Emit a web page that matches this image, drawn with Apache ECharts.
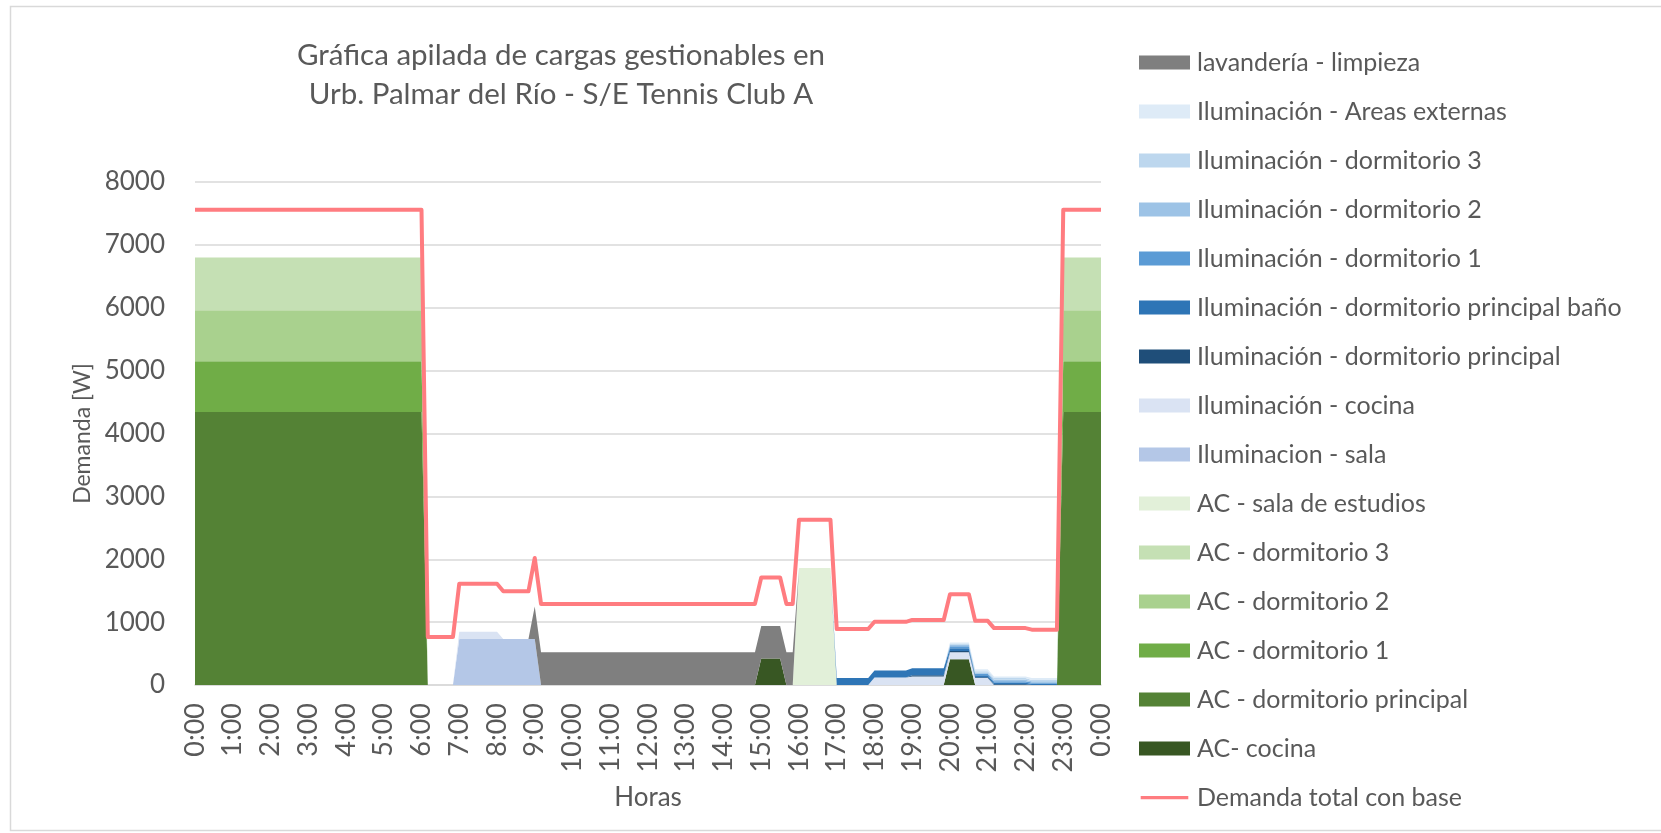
<!DOCTYPE html>
<html>
<head>
<meta charset="utf-8">
<script src="https://cdn.jsdelivr.net/npm/echarts@6/dist/echarts.min.js"></script>
<style>
  html, body { margin: 0; padding: 0; background: #fff; }
  #chart { width: 1661px; height: 833px; }
</style>
</head>
<body>
<div id="chart"></div>
<script>
// time points in minutes from 0:00 (10-min samples where something changes)
const minutes = [0, 360, 370, 410, 420, 480, 490, 530, 540, 550, 890, 900, 930, 940, 950, 960,
  1010, 1020, 1070, 1080, 1130, 1140, 1190, 1200, 1230, 1240, 1260, 1270, 1320, 1330, 1370, 1380, 1440];

// stacked loads [W], bottom to top
const acCocina      = [0, 0, 0, 0, 0, 0, 0, 0, 0, 0, 0, 420, 420, 0, 0, 0, 0, 0, 0, 0, 0, 0, 0, 410, 410, 0, 0, 0, 0, 0, 0, 0, 0];
const acPrincipal   = [4340, 4340, 0, 0, 0, 0, 0, 0, 0, 0, 0, 0, 0, 0, 0, 0, 0, 0, 0, 0, 0, 0, 0, 0, 0, 0, 0, 0, 0, 0, 0, 4340, 4340];
const acDorm1       = [810, 810, 0, 0, 0, 0, 0, 0, 0, 0, 0, 0, 0, 0, 0, 0, 0, 0, 0, 0, 0, 0, 0, 0, 0, 0, 0, 0, 0, 0, 0, 810, 810];
const acDorm2       = [810, 810, 0, 0, 0, 0, 0, 0, 0, 0, 0, 0, 0, 0, 0, 0, 0, 0, 0, 0, 0, 0, 0, 0, 0, 0, 0, 0, 0, 0, 0, 810, 810];
const acDorm3       = [840, 840, 0, 0, 0, 0, 0, 0, 0, 0, 0, 0, 0, 0, 0, 0, 0, 0, 0, 0, 0, 0, 0, 0, 0, 0, 0, 0, 0, 0, 0, 840, 840];
const acEstudios    = [0, 0, 0, 0, 0, 0, 0, 0, 0, 0, 0, 0, 0, 0, 0, 1860, 1860, 0, 0, 0, 0, 0, 0, 0, 0, 0, 0, 0, 0, 0, 0, 0, 0];
const ilSala        = [0, 0, 0, 0, 730, 730, 730, 730, 730, 0, 0, 0, 0, 0, 0, 0, 0, 0, 0, 0, 0, 0, 0, 0, 0, 0, 0, 0, 0, 0, 0, 0, 0];
const ilCocina      = [0, 0, 0, 0, 115, 115, 0, 0, 0, 0, 0, 0, 0, 0, 0, 0, 0, 0, 0, 120, 120, 135, 135, 110, 110, 110, 110, 0, 0, 0, 0, 0, 0];
const ilPrincipal   = [0, 0, 0, 0, 0, 0, 0, 0, 0, 0, 0, 0, 0, 0, 0, 0, 0, 0, 0, 0, 0, 20, 20, 20, 20, 15, 15, 10, 10, 0, 0, 0, 0];
const ilBano        = [0, 0, 0, 0, 0, 0, 0, 0, 0, 0, 0, 0, 0, 0, 0, 0, 0, 110, 110, 110, 110, 110, 110, 45, 45, 30, 30, 25, 25, 20, 20, 0, 0];
const ilDorm1       = [0, 0, 0, 0, 0, 0, 0, 0, 0, 0, 0, 0, 0, 0, 0, 0, 0, 0, 0, 0, 0, 0, 0, 30, 30, 25, 25, 25, 25, 20, 20, 0, 0];
const ilDorm2       = [0, 0, 0, 0, 0, 0, 0, 0, 0, 0, 0, 0, 0, 0, 0, 0, 0, 0, 0, 0, 0, 0, 0, 25, 25, 20, 20, 25, 25, 20, 20, 0, 0];
const ilDorm3       = [0, 0, 0, 0, 0, 0, 0, 0, 0, 0, 0, 0, 0, 0, 0, 0, 0, 0, 0, 0, 0, 0, 0, 20, 20, 20, 20, 25, 25, 20, 20, 0, 0];
const ilExternas    = [0, 0, 0, 0, 0, 0, 0, 0, 0, 0, 0, 0, 0, 0, 0, 0, 0, 0, 0, 0, 0, 0, 0, 15, 15, 30, 30, 25, 25, 30, 30, 0, 0];
const lavanderia    = [0, 0, 0, 0, 0, 0, 0, 0, 520, 520, 520, 520, 520, 520, 520, 0, 0, 0, 0, 0, 0, 0, 0, 0, 0, 0, 0, 0, 0, 0, 0, 0, 0];
// red line
const demandaTotal  = [7560, 7560, 765, 765, 1610, 1610, 1490, 1490, 2020, 1290, 1290, 1710, 1710, 1290, 1290, 2630,
  2630, 890, 890, 1005, 1005, 1035, 1035, 1445, 1445, 1020, 1020, 905, 905, 880, 880, 7560, 7560];

const areaSeries = [
  ["AC- cocina", acCocina, "#385723"],
  ["AC - dormitorio principal", acPrincipal, "#548235"],
  ["AC - dormitorio 1", acDorm1, "#70ad47"],
  ["AC - dormitorio 2", acDorm2, "#a9d18e"],
  ["AC - dormitorio 3", acDorm3, "#c5e0b4"],
  ["AC - sala de estudios", acEstudios, "#e2f0d9"],
  ["Iluminacion - sala", ilSala, "#b4c7e7"],
  ["Iluminación - cocina", ilCocina, "#dae3f3"],
  ["Iluminación - dormitorio principal", ilPrincipal, "#1f4e79"],
  ["Iluminación - dormitorio principal baño", ilBano, "#2e75b6"],
  ["Iluminación - dormitorio 1", ilDorm1, "#5b9bd5"],
  ["Iluminación - dormitorio 2", ilDorm2, "#9dc3e6"],
  ["Iluminación - dormitorio 3", ilDorm3, "#bdd7ee"],
  ["Iluminación - Areas externas", ilExternas, "#deebf7"],
  ["lavandería - limpieza", lavanderia, "#7f7f7f"],
];

const FONT = "Lato";
const GREY = "#595959";
const HOUR = 3600 * 1000;

const chart = echarts.init(document.getElementById("chart"));

// time axis (ms since 0:00) so the stack is done on the W values, point by point
const toPoints = (values) => minutes.map((m, i) => [m * 60000, values[i]]);

const series = areaSeries.map(([name, values, color]) => ({
  name,
  type: "line",
  stack: "cargas",
  data: toPoints(values),
  showSymbol: false,
  symbol: "none",
  lineStyle: { width: 0 },
  itemStyle: { color },
  areaStyle: { color, opacity: 1 },
  silent: true,
}));

series.push({
  name: "Demanda total con base",
  type: "line",
  data: toPoints(demandaTotal),
  symbol: "none",
  itemStyle: { color: "#ff7c80" },
  lineStyle: { color: "#ff7c80", width: 4, join: "round" },
  z: 5,
});

// legend: top item is the last stacked series (Excel order)
const legendData = areaSeries
  .map(([name]) => ({ name, icon: "rect" }))
  .reverse();
legendData.push({
  name: "Demanda total con base",
  icon: "path://M0,0 L0.01,0 L0,0 Z M0,6 L51,6 L51,9.5 L0,9.5 Z M0,15 L0.01,15 L0,15 Z",
});

const option = {
  animation: false,
  useUTC: true,
  textStyle: { fontFamily: FONT },
  title: {
    text: "Gráfica apilada de cargas gestionables en\nUrb. Palmar del Río - S/E Tennis Club A",
    left: 561,
    top: 36,
    padding: 0,
    textAlign: "center",
    textStyle: { fontFamily: FONT, fontSize: 29.5, fontWeight: "normal", color: GREY, lineHeight: 39 },
  },
  legend: {
    orient: "vertical",
    left: 1139,
    top: 50,
    padding: 0,
    itemWidth: 51,
    itemHeight: 14,
    itemGap: 24,
    data: legendData,
    textStyle: { fontFamily: FONT, fontSize: 25, color: GREY, padding: [0, 0, 0, 2] },
  },
  grid: { left: 195, right: 560, top: 182, bottom: 148, containLabel: false },
  xAxis: {
    type: "time",
    min: 0,
    max: 24 * HOUR,
    minInterval: HOUR,
    maxInterval: HOUR,
    name: "Horas",
    nameLocation: "middle",
    nameGap: 100,
    nameTextStyle: { fontFamily: FONT, fontSize: 26, color: GREY },
    splitLine: { show: false },
    axisTick: { show: false },
    axisLine: { lineStyle: { color: "#d9d9d9", width: 1.5 } },
    axisLabel: {
      rotate: 90,
      margin: 18,
      fontFamily: FONT,
      fontSize: 27,
      color: GREY,
      showMinLabel: true,
      showMaxLabel: true,
      hideOverlap: false,
      formatter: (v) => (Math.round(v / HOUR) % 24) + ":00",
    },
  },
  yAxis: {
    type: "value",
    min: 0,
    max: 8000,
    interval: 1000,
    name: "Demanda [W]",
    nameLocation: "middle",
    nameGap: 100,
    nameTextStyle: { fontFamily: FONT, fontSize: 23, color: GREY },
    axisLine: { show: false },
    axisTick: { show: false },
    splitLine: { lineStyle: { color: "#d9d9d9", width: 1.5 } },
    axisLabel: { margin: 30, fontFamily: FONT, fontSize: 26, color: GREY, formatter: (v) => String(v) },
  },
  graphic: [
    {
      type: "rect",
      shape: { x: 10.5, y: 6.5, width: 1700, height: 824 },
      style: { fill: null, stroke: "#d9d9d9", lineWidth: 1.5 },
      silent: true,
      z: -10,
    },
  ],
  series,
};

chart.setOption(option);
</script>
</body>
</html>
